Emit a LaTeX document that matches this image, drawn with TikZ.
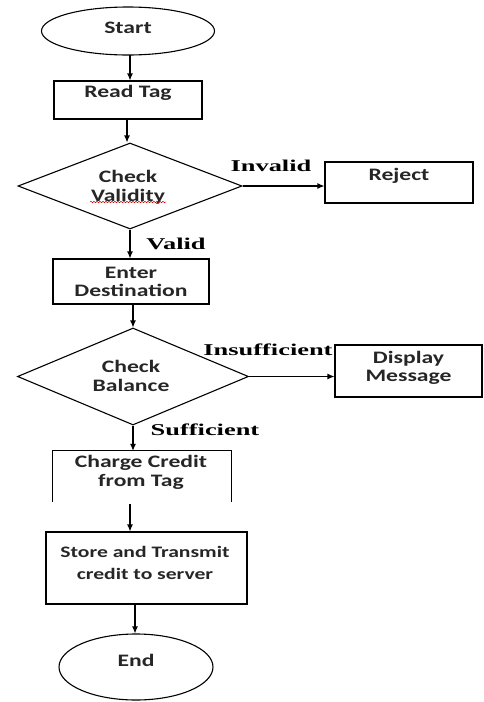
\documentclass[tikz,border=0pt]{standalone}
\usepackage{fontspec}
\usetikzlibrary{shapes.geometric,arrows.meta,decorations.pathmorphing}
\newfontfamily\boxf[FakeStretch=1.35]{Carlito}
\newfontfamily\labf[FakeStretch=1.6]{Liberation Serif}
\begin{document}
\begin{tikzpicture}[x=1pt,y=-1pt,
  shp/.style={draw=black,line width=1.1pt,inner sep=0pt},
  boxshape/.style={shp,rectangle},
  oval/.style={shp,ellipse},
  decision/.style={shp,diamond},
  btxt/.style={font=\boxf\bfseries\fontsize{17.5}{18.5}\selectfont,align=center,inner sep=0pt,text=black!85},
  lbl/.style={font=\labf\bfseries\fontsize{16.5}{18}\selectfont,inner sep=0pt},
  arr/.style={line width=1.1pt,-{Latex[length=7pt,width=6pt]}}]
\useasboundingbox (0,0) rectangle (484,702);
% shapes
\node[oval,minimum width=173,minimum height=48] (start) at (128,31) {};
\node[btxt] (startt) at (128,28) {Start};
\node[boxshape,minimum width=148,minimum height=38] (read) at (128,100) {};
\node[btxt] (readt) at (128,93) {Read Tag};
\node[decision,minimum width=224,minimum height=86] (valid) at (130,186) {};
\node[btxt] (validt) at (128,187) {Check\\Validity};
\node[boxshape,minimum width=148,minimum height=41] (reject) at (399,182.5) {};
\node[btxt] (rejectt) at (399,176) {Reject};
\node[boxshape,minimum width=156,minimum height=45] (dest) at (131,281.5) {};
\node[btxt] (destt) at (131,282) {Enter\\Destination};
\node[decision,minimum width=231,minimum height=97] (bal) at (133,376.5) {};
\node[btxt] (balt) at (131,376) {Check\\Balance};
\node[boxshape,minimum width=147,minimum height=52] (disp) at (408.5,371) {};
\node[btxt] (dispt) at (408.5,368) {Display\\Message};
\node[inner sep=0pt,minimum width=178,minimum height=51] (charge) at (142,476.5) {};
\draw[line width=1.1pt] (charge.south west) -- (charge.north west) -- (charge.north east) -- (charge.south east);
\node[btxt] (charget) at (141,472.5) {Charge Credit\\from Tag};
\node[boxshape,minimum width=201,minimum height=72] (store) at (146.5,568) {};
\node[btxt,font=\boxf\bfseries\fontsize{16}{22}\selectfont] (storet) at (145,563) {Store and Transmit\\credit to server};
\node[oval,minimum width=154,minimum height=66] (end) at (136,667) {};
\node[btxt] (endt) at (136,660) {End};
% labels
\node[lbl] (linv) at (271,166) {Invalid};
\node[lbl] (lval) at (176,244) {Valid};
\node[lbl] (lins) at (268,350) {Insufficient};
\node[lbl] (lsuf) at (205,430) {Sufficient};
% spelling squiggle
\draw[red!80!black,line width=0.5pt,decorate,decoration={snake,amplitude=0.7pt,segment length=3pt}] (90,202) -- (166,202);
% connectors
\draw[arr] (130,55) coordinate (s1) -- (s1 |- read.north);
\draw[arr] (127,119) coordinate (s2) -- (s2 |- valid.north);
\draw[arr] (valid.east) -- (valid.east -| reject.west);
\draw[arr] (valid.south) -- (valid.south |- dest.north);
\draw[arr] (133,304) coordinate (s3) -- (s3 |- bal.north);
\draw[arr] (bal.east) -- (bal.east -| disp.west);
\draw[arr] (bal.south) -- (bal.south |- charge.north);
\draw[arr] (130,504) coordinate (s4) -- (s4 |- store.north);
\draw[arr] (135,604) coordinate (s5) -- (s5 |- end.north);
\end{tikzpicture}
\end{document}
